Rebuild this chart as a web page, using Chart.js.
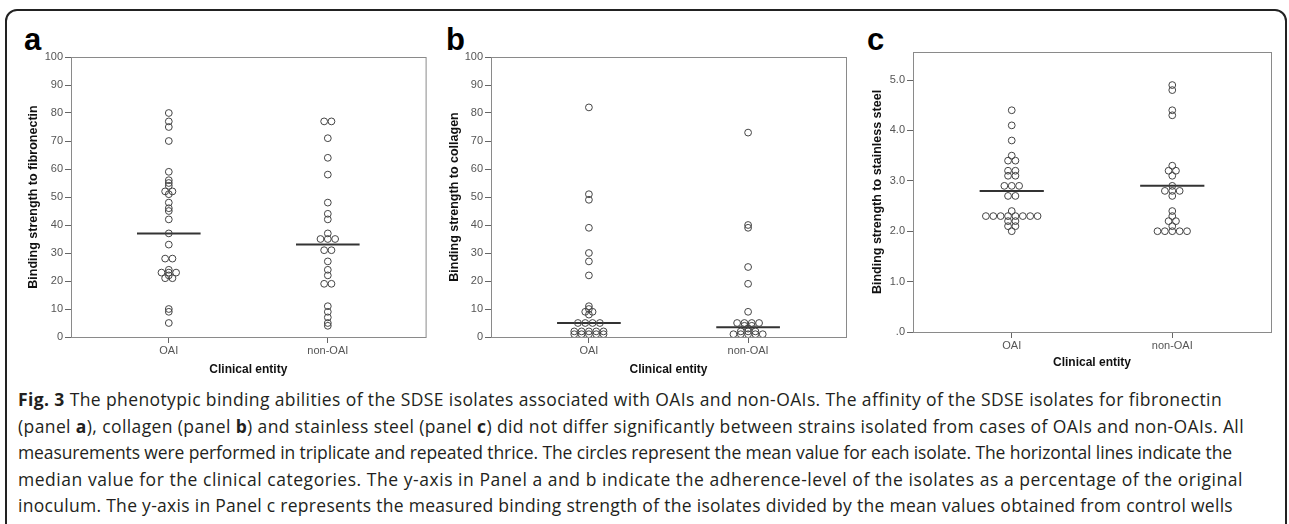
<!DOCTYPE html>
<html>
<head>
<meta charset="utf-8">
<script src="https://cdn.jsdelivr.net/npm/chart.js@4.4.0/dist/chart.umd.min.js"></script>
<style>
html, body { margin: 0; padding: 0; background: #fff; }
body { width: 1289px; height: 524px; position: relative; overflow: hidden; font-family: "Liberation Sans", Arial, sans-serif; }
#frame { position: absolute; left: 5px; top: 9px; width: 1282px; height: 620px; border: 2px solid #222; border-radius: 12px; box-sizing: border-box; }
canvas { position: absolute; top: 0; }
.letter { position: absolute; top: 24px; font: bold 31px/31px "Liberation Sans", Arial, sans-serif; color: #000; }
#caption { position: absolute; left: 18px; top: 386px; font-family: "Open Sans", sans-serif; font-size: 17.5px; line-height: 26.5px; color: #231f20; white-space: nowrap; }
#caption span.ln { display: inline-block; }
</style>
</head>
<body>
<div id="frame"></div>
<div class="letter" style="left:24px">a</div>
<div class="letter" style="left:446px">b</div>
<div class="letter" style="left:867px">c</div>
<canvas id="pa" width="430" height="380" style="left:0px"></canvas>
<canvas id="pb" width="430" height="380" style="left:430px"></canvas>
<canvas id="pc" width="429" height="380" style="left:860px"></canvas>
<div id="caption">
<span class="ln" data-w="1204"><b>Fig. 3</b> The phenotypic binding abilities of the SDSE isolates associated with OAIs and non-OAIs. The affinity of the SDSE isolates for fibronectin</span><br>
<span class="ln" data-w="1226">(panel <b>a</b>), collagen (panel <b>b</b>) and stainless steel (panel <b>c</b>) did not differ significantly between strains isolated from cases of OAIs and non-OAIs. All</span><br>
<span class="ln" data-w="1214">measurements were performed in triplicate and repeated thrice. The circles represent the mean value for each isolate. The horizontal lines indicate the</span><br>
<span class="ln" data-w="1225">median value for the clinical categories. The y-axis in Panel a and b indicate the adherence-level of the isolates as a percentage of the original</span><br>
<span class="ln" data-w="1215">inoculum. The y-axis in Panel c represents the measured binding strength of the isolates divided by the mean values obtained from control wells</span>
</div>
<script>
// values, one mean per isolate
const categories = ['OAI', 'non-OAI']

const fibronectinOAI = [80, 77, 75, 70, 59, 56, 55, 54, 52, 52, 51, 48, 46, 45, 42, 37, 33, 28, 28, 24, 23, 23, 23, 22, 21, 21, 10, 9, 5]
const fibronectinNonOAI = [77, 77, 71, 64, 58, 48, 44, 42, 37, 35, 35, 35, 31, 31, 27, 24, 22, 19, 19, 11, 9, 7, 5, 4]
const fibronectinMedians = [37, 33]

const collagenOAI = [82, 51, 49, 39, 30, 27, 22, 11, 10, 9, 9, 8, 5, 5, 5, 5, 2, 2, 2, 2, 2, 1, 1, 1, 1, 1]
const collagenNonOAI = [73, 40, 39, 25, 19, 9, 5, 5, 5, 5, 4, 4, 3, 2, 2, 2, 1, 1, 1, 1, 1]
const collagenMedians = [5, 3.5]

const steelOAI = [4.4, 4.1, 3.8, 3.5, 3.4, 3.4, 3.2, 3.2, 3.1, 3.1, 2.9, 2.9, 2.9, 2.7, 2.7, 2.4, 2.3, 2.3, 2.3, 2.3, 2.3, 2.3, 2.3, 2.3, 2.2, 2.2, 2.1, 2.1, 2.0]
const steelNonOAI = [4.9, 4.8, 4.4, 4.3, 3.3, 3.2, 3.2, 3.1, 2.9, 2.8, 2.8, 2.8, 2.7, 2.4, 2.3, 2.2, 2.2, 2.1, 2.0, 2.0, 2.0, 2.0, 2.0]
const steelMedians = [2.8, 2.9]

const percentTicks = [0, 10, 20, 30, 40, 50, 60, 70, 80, 90, 100]
const steelTicks = [0, 1, 2, 3, 4, 5]

// spread equal values sideways like the SPSS dot plot
function swarm(values, pos, step) {
  let counts = {}
  values.forEach(v => counts[v] = (counts[v] || 0) + 1)
  let seen = {}
  return values.map(v => {
    let i = seen[v] = (seen[v] === undefined ? 0 : seen[v] + 1)
    return { x: pos + (i - (counts[v] - 1) / 2) * step, y: v }
  })
}

const boxPlugin = {
  id: 'box',
  afterDraw(chart) {
    let a = chart.chartArea, ctx = chart.ctx
    ctx.save()
    ctx.strokeStyle = '#8a8a8a'
    ctx.lineWidth = 1
    ctx.strokeRect(a.left + 0.5, a.top + 0.5, a.right - a.left, a.bottom - a.top)
    ctx.restore()
  }
}

const font = 'Liberation Sans, Arial, sans-serif'

function panel(id, oai, nonOai, medians, yTitle, g) {
  let step = 0.046
  let datasets = [oai, nonOai].map((vals, k) => ({
    data: swarm(vals, k + 1, step),
    pointStyle: 'circle',
    pointRadius: 3.4,
    pointBorderWidth: 1,
    pointBorderColor: '#444',
    pointBackgroundColor: 'rgba(255,255,255,0)',
    pointHoverRadius: 3.4
  }))
  medians.forEach((m, k) => {
    datasets.push({
      data: [{ x: k + 1 - 0.2, y: m }, { x: k + 1 + 0.2, y: m }],
      showLine: true,
      borderColor: '#333',
      borderWidth: 2,
      pointRadius: 0
    })
  })

  new Chart(document.getElementById(id), {
    type: 'scatter',
    data: { datasets },
    options: {
      responsive: false,
      animation: false,
      layout: { padding: { left: 0, right: g.right, top: g.top, bottom: 0 } },
      plugins: { legend: { display: false }, tooltip: { enabled: false } },
      scales: {
        x: {
          type: 'linear', min: 0.385, max: 2.615,
          afterBuildTicks: s => { s.ticks = [{ value: 1 }, { value: 2 }] },
          afterFit: s => { s.height = g.xh },
          ticks: { callback: v => categories[v - 1], color: '#555', font: { family: font, size: 11 }, padding: 1, maxRotation: 0 },
          grid: { display: true, drawOnChartArea: false, drawTicks: true, tickLength: 6, color: '#666' },
          border: { display: true, color: '#8a8a8a' },
          title: { display: true, text: 'Clinical entity', color: '#111', font: { family: font, size: 12, weight: 'bold' }, padding: { top: 0, bottom: g.xtPad } }
        },
        y: {
          min: 0, max: g.ymax,
          afterBuildTicks: s => { s.ticks = g.ticks.map(v => ({ value: v })) },
          afterFit: s => { s.width = g.yw },
          ticks: { callback: g.fmt, color: '#555', font: { family: font, size: 11 }, padding: 2 },
          grid: { display: true, drawOnChartArea: false, drawTicks: true, tickLength: 6, color: '#666' },
          border: { display: true, color: '#8a8a8a' },
          title: { display: true, text: yTitle, color: '#111', font: { family: font, size: 12.5, weight: 'bold' }, padding: { top: g.ytPad, bottom: 0 } }
        }
      }
    },
    plugins: [boxPlugin]
  })
}

panel('pa', fibronectinOAI, fibronectinNonOAI, fibronectinMedians, 'Binding strength to fibronectin',
  { right: 4, top: 57, xh: 43, yw: 71, xtPad: 3, ytPad: 26, ymax: 100, ticks: percentTicks, fmt: v => String(v) })
panel('pb', collagenOAI, collagenNonOAI, collagenMedians, 'Binding strength to collagen',
  { right: 14, top: 57, xh: 43, yw: 61, xtPad: 3, ytPad: 17, ymax: 100, ticks: percentTicks, fmt: v => String(v) })
panel('pc', steelOAI, steelNonOAI, steelMedians, 'Binding strength to stainless steel',
  { right: 18, top: 52, xh: 48, yw: 53, xtPad: 10, ytPad: 10, ymax: 5.556, ticks: steelTicks, fmt: v => v === 0 ? '.0' : v.toFixed(1) })

// stretch or squeeze each caption line to the width it has in the figure
document.querySelectorAll('#caption .ln').forEach(el => {
  let target = +el.dataset.w
  let n = el.textContent.length
  let w = el.getBoundingClientRect().width
  el.style.letterSpacing = ((target - w) / n) + 'px'
})
</script>
</body>
</html>
